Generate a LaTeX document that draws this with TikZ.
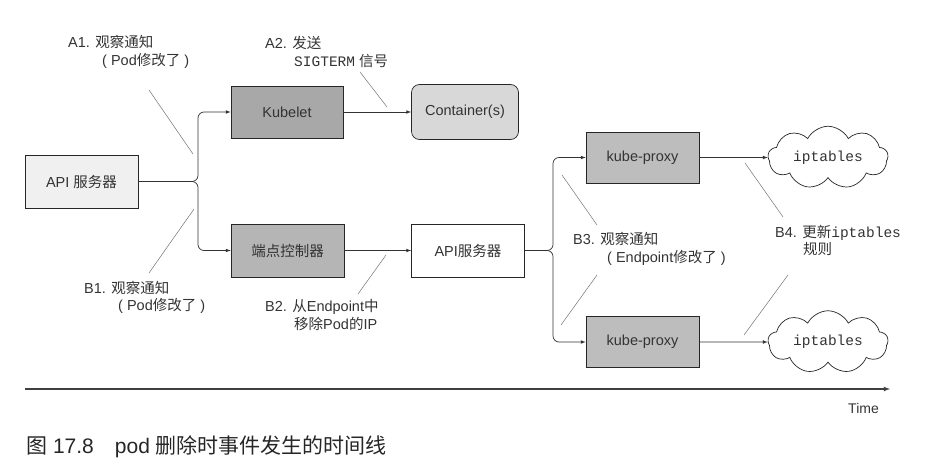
\documentclass[tikz,border=0pt]{standalone}
\usepackage{fontspec}
\setmainfont{Liberation Sans}
\setmonofont{Liberation Mono}
\newfontfamily\cjk{Noto Sans CJK SC}
\usepackage{tikz}
\usetikzlibrary{arrows}
\usetikzlibrary{shapes,positioning,calc}
\newcommand{\zh}[1]{{\cjk #1}}
\definecolor{apifill}{HTML}{F0F0F0}
\definecolor{kubefill}{HTML}{A8A8A8}
\definecolor{ctrfill}{HTML}{D8D8D8}
\definecolor{epfill}{HTML}{B5B5B5}
\definecolor{kpfill}{HTML}{BDBDBD}

\begin{document}
\begin{tikzpicture}[>=latex, x=1pt, y=-1pt, font=\fontsize{14.5}{17.5}\selectfont,
	box/.style={draw=black!85, line width=0.7pt, minimum width=113pt, minimum height=53pt, inner sep=0pt, text=black!80},
	cloudbox/.style={cloud, cloud puffs=9, cloud puff arc=125, aspect=2.2, draw=black!85, line width=0.7pt, fill=white, minimum width=120pt, minimum height=47pt, inner sep=0pt, text=black!80},
	note/.style={align=left, anchor=west, inner sep=0pt, text=black!80},
	link/.style={->, line width=0.7pt, draw=black!80},
	leader/.style={draw=black!55, line width=0.5pt}]
			\useasboundingbox (0,0) rectangle (928,468);
			\node[box, fill=apifill] (api) at (81.5,181.5) {API \zh{服务器}};
			\node[box, fill=kubefill, minimum width=112pt, minimum height=52pt] (kubelet) at (287,112) {Kubelet};
			\node[box, fill=ctrfill, rounded corners=8pt, minimum width=107pt, minimum height=55pt] (ctr) at (465,112) {Container(s)};
			\node[box, fill=epfill] (epc) at (287.5,250.5) {\zh{端点控制器}};
			\node[box, fill=white] (api2) at (468,250.5) {API\zh{服务器}};
			\node[box, fill=kpfill, minimum height=51pt] (kp1) at (642.5,157.5) {kube-proxy};
			\node[box, fill=kpfill, minimum height=51pt] (kp2) at (642.5,342) {kube-proxy};
			\node[cloudbox] (ipt1) at (828,157.5) {\ttfamily iptables};
			\node[cloudbox] (ipt2) at (828,342) {\ttfamily iptables};
			\coordinate (forkA) at (198,181.5);
			\coordinate (forkB) at (553,250.5);
			\draw[link, rounded corners=6pt] (api.east) -- (forkA) |- (kubelet.west);
			\draw[link, rounded corners=6pt] (api.east) -- (forkA) |- (epc.west);
			\draw[link] (kubelet) -- (ctr);
			\draw[link] (epc) -- (api2);
			\draw[link, rounded corners=6pt] (api2.east) -- (forkB) |- (kp1.west);
			\draw[link, rounded corners=6pt] (api2.east) -- (forkB) |- (kp2.west);
			\draw[link] (kp1) -- (ipt1);
			\draw[link] (kp2) -- (ipt2);
			\draw[leader] (149,90) -- (193,154);
			\draw[leader] (360,72) -- (387,107);
			\draw[leader] (149,273) -- (194,209);
			\draw[leader] (358,294) -- (386,255);
			\draw[leader] (562,175) -- (597,225);
			\draw[leader] (597,275) -- (561,325);
			\draw[leader] (745,163) -- (783,217);
			\draw[leader] (788,275) -- (744,335);
			\node[note] (a1) at (68,52) {A1. \zh{观察通知}\\\hspace*{34pt}( Pod\zh{修改了} )};
			\node[note] (a2) at (265,52) {A2. \zh{发送}\\\hspace*{29pt}\texttt{SIGTERM} \zh{信号}};
			\node[note] (b1) at (84,297.5) {B1. \zh{观察通知}\\\hspace*{34pt}( Pod\zh{修改了} )};
			\node[note] (b2) at (265,315) {B2. \zh{从}Endpoint\zh{中}\\\hspace*{29pt}\zh{移除}Pod\zh{的}IP};
			\node[note] (b3) at (573,249) {B3. \zh{观察通知}\\\hspace*{34pt}( Endpoint\zh{修改了} )};
			\node[note] (b4) at (775,240.5) {B4. \zh{更新}\texttt{iptables}\\\hspace*{28pt}\zh{规则}};
			\coordinate (t0) at (25,389);
			\coordinate (t1) at (890,389);
			\draw[->, line width=1.1pt, draw=black!75] (t0) -- (t1);
			\node[text=black!80, font=\fontsize{14}{16}\selectfont] (time) at (863.5,408) {Time};
			\node[anchor=west, inner sep=0pt, text=black!85, font=\fontsize{21}{24}\selectfont] (cap) at (26,447) {\zh{图} 17.8\quad pod \zh{删除时事件发生的时间线}};
			\end{tikzpicture}
\end{document}
